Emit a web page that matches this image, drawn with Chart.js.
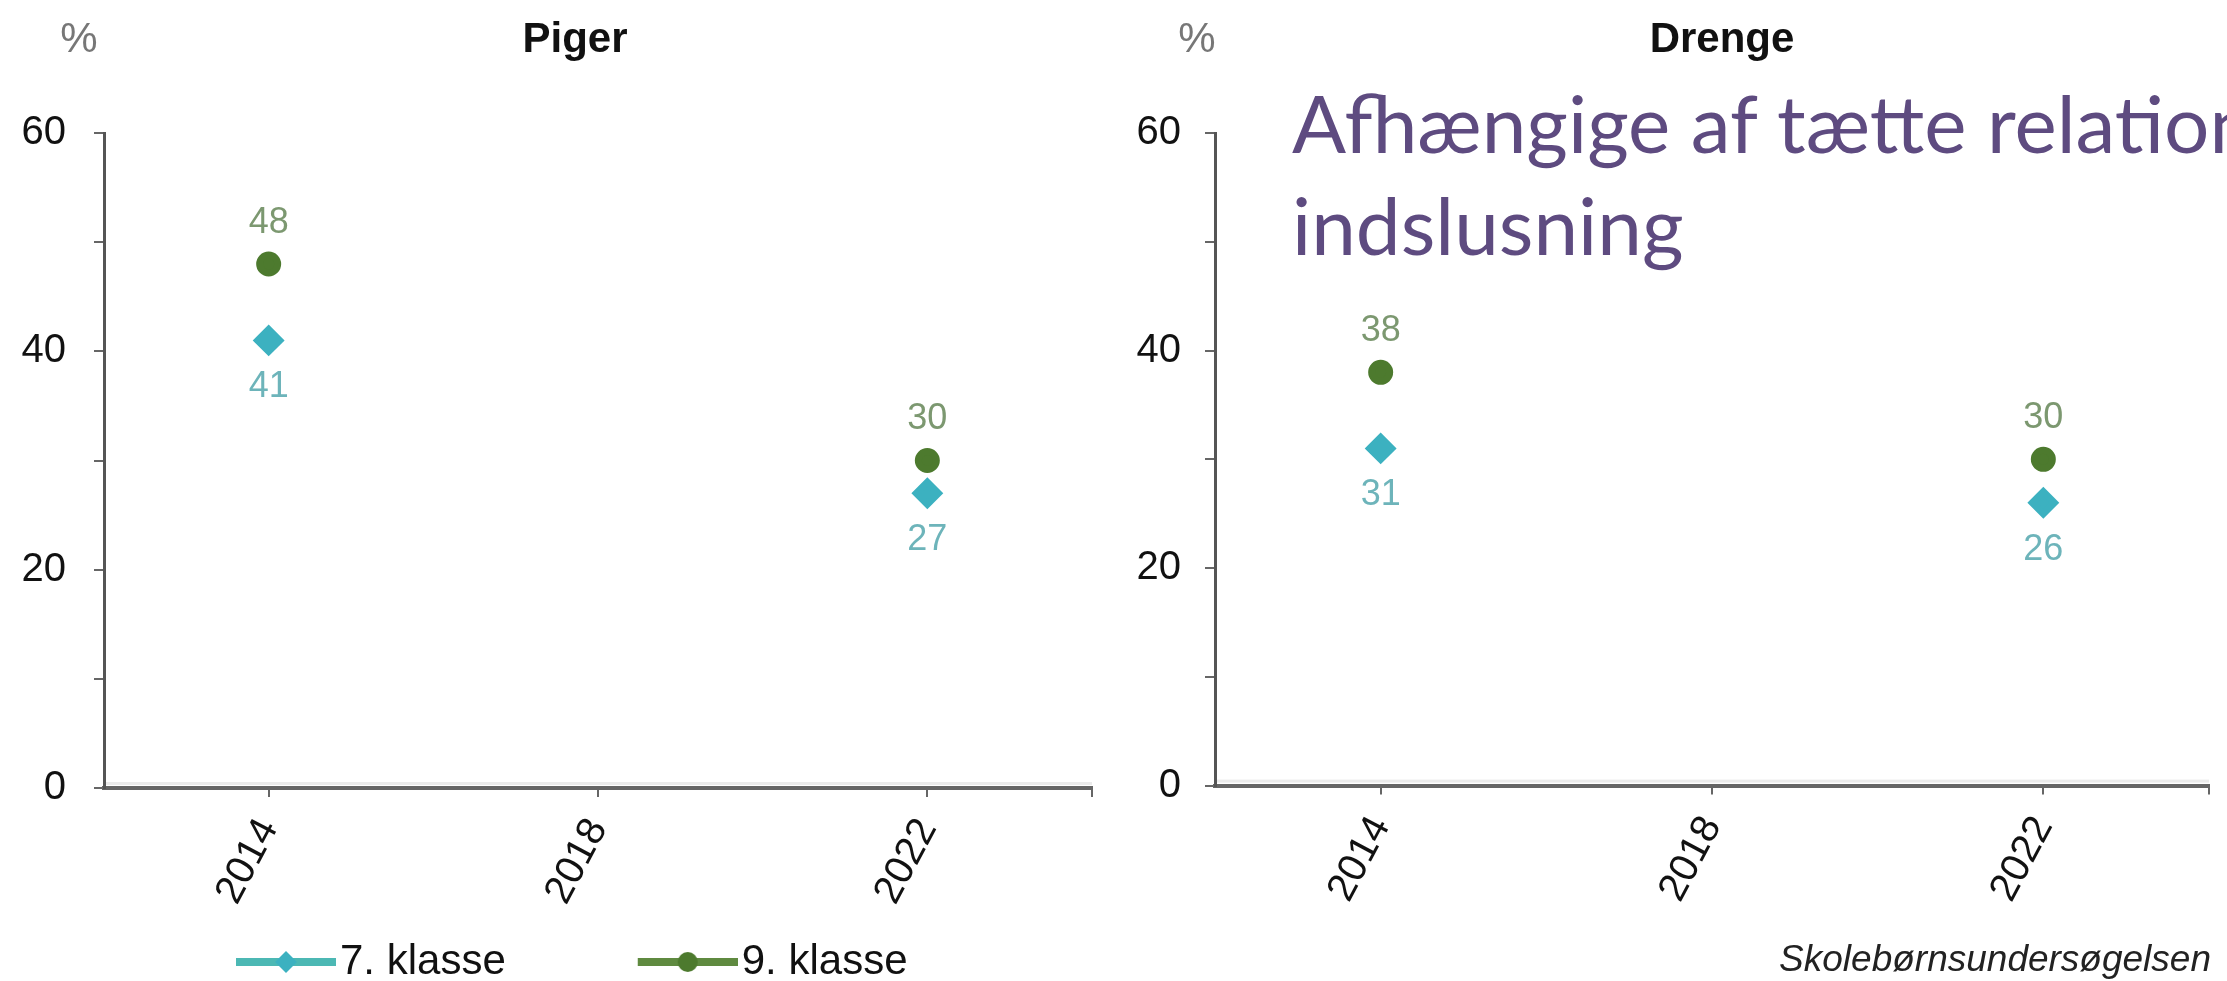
<!DOCTYPE html>
<html><head><meta charset="utf-8">
<script src="https://cdn.jsdelivr.net/npm/chart.js@4.4.1/dist/chart.umd.min.js"></script>
<style>
html,body{margin:0;padding:0;background:#fff;overflow:hidden;width:2227px;height:981px;position:relative;}
#c1{position:absolute;left:0;top:0;width:1110px;height:993px;}
#c2{position:absolute;left:1110px;top:0;width:1117px;height:993px;}
#overlay{position:absolute;left:1292px;top:71px;font-family:Lato,'Open Sans',sans-serif;font-size:80px;line-height:102px;color:#5e4b80;white-space:nowrap;}
</style></head><body>
<canvas id="c1" width="1110" height="993"></canvas>
<canvas id="c2" width="1117" height="993"></canvas>
<div id="overlay">Afhængige af tætte relationer ved<br>indslusning</div>
<script>
// ---- data ----
const years = ['2014', '2018', '2022'];
const seriesNames = ['7. klasse', '9. klasse'];
const piger7 = [41, null, 27];
const piger9 = [48, null, 30];
const drenge7 = [31, null, 26];
const drenge9 = [38, null, 30];
const yTickValues = [0, 10, 20, 30, 40, 50, 60];
const yLabelValues = [0, 20, 40, 60];
const panelTitles = ['Piger', 'Drenge'];
const unitLabel = '%';
const sourceText = 'Skolebørnsundersøgelsen';

// ---- styles ----
const FONT = "'Liberation Sans', Arial, sans-serif";
Chart.defaults.font.family = FONT;
const col7 = '#3cb1c0', line7 = '#4cb8b4', lab7 = '#6db4ba';
const col9 = '#4d7a2e', line9 = '#5f8a40', lab9 = '#7c9870';

function legendIcon(lineColor, markColor, style) {
  const W = 244, H = 30;
  const c = document.createElement('canvas');
  c.width = W; c.height = H;
  const g = c.getContext('2d');
  g.strokeStyle = lineColor; g.lineWidth = 8;
  g.beginPath(); g.moveTo(W - 100, H / 2); g.lineTo(W, H / 2); g.stroke();
  g.fillStyle = markColor;
  const cx = W - 50, cy = H / 2, r = 11;
  g.beginPath();
  if (style === 'rectRot') {
    g.moveTo(cx - r, cy); g.lineTo(cx, cy - r); g.lineTo(cx + r, cy); g.lineTo(cx, cy + r); g.closePath();
  } else {
    g.arc(cx, cy, r - 1, 0, Math.PI * 2);
  }
  g.fill();
  return c;
}

const pointLabels = {
  id: 'pointLabels',
  afterDatasetsDraw(chart) {
    const ctx = chart.ctx;
    chart.data.datasets.forEach((ds, di) => {
      const meta = chart.getDatasetMeta(di);
      meta.data.forEach((pt, i) => {
        const v = ds.data[i];
        if (v == null) return;
        ctx.save();
        ctx.font = '36px ' + FONT;
        ctx.fillStyle = ds.labelColor;
        ctx.textAlign = 'center';
        ctx.textBaseline = 'middle';
        ctx.fillText(String(v), pt.x, pt.y + ds.labelOffset);
        ctx.restore();
      });
    });
  }
};

const panelText = {
  id: 'panelText',
  afterDraw(chart, args, o) {
    const ctx = chart.ctx, a = chart.chartArea;
    ctx.save();
    ctx.strokeStyle = '#666'; ctx.lineWidth = 2;
    ctx.beginPath(); ctx.moveTo(a.right, a.bottom); ctx.lineTo(a.right, a.bottom + 9); ctx.stroke();
    ctx.fillStyle = 'rgba(0,0,0,0.08)';
    ctx.fillRect(a.left + 2, a.bottom - 6, a.right - a.left - 2, 3);
    ctx.textAlign = 'center'; ctx.textBaseline = 'middle';
    ctx.font = 'bold 42px ' + FONT; ctx.fillStyle = '#111';
    ctx.fillText(o.title, o.titleX, o.titleY);
    ctx.font = '42px ' + FONT; ctx.fillStyle = '#777';
    ctx.fillText(unitLabel, o.unitX, o.unitY);
    ctx.restore();
  }
};

function makeChart(id, d7, d9, cfg) {
  return new Chart(document.getElementById(id), {
    type: 'line',
    data: {
      labels: years,
      datasets: [
        { label: seriesNames[0], data: d7, borderColor: line7, backgroundColor: col7,
          pointBackgroundColor: col7, pointBorderColor: col7, pointStyle: 'rectRot', pointRadius: 11,
          borderWidth: 7, spanGaps: false, labelColor: lab7, labelOffset: 47, icon: legendIcon(line7, col7, 'rectRot') },
        { label: seriesNames[1], data: d9, borderColor: line9, backgroundColor: col9,
          pointBackgroundColor: col9, pointBorderColor: col9, pointStyle: 'circle', pointRadius: 9,
          borderWidth: 7, spanGaps: false, labelColor: lab9, labelOffset: -41, icon: legendIcon(line9, col9, 'circle') }
      ]
    },
    options: {
      responsive: false, animation: false, devicePixelRatio: 1,
      layout: { padding: { top: 133, left: 0, right: cfg.padRight, bottom: 0 } },
      scales: {
        x: {
          type: 'category', offset: true,
          grid: { display: true, drawOnChartArea: false, drawTicks: true, tickLength: 9, color: '#666', lineWidth: 2, offset: false },
          border: { display: true, color: '#666', width: 4 },
          ticks: { font: { size: 40 }, color: '#111', minRotation: 62, maxRotation: 62, padding: 14, autoSkip: false },
          afterFit: s => { s.height = 148; }
        },
        y: {
          min: 0, max: 60,
          afterBuildTicks: s => { s.ticks = yTickValues.map(v => ({ value: v })); },
          ticks: { callback: v => yLabelValues.includes(v) ? String(v) : '', font: { size: 40 }, color: '#111', padding: cfg.yPad },
          grid: { drawOnChartArea: false, drawTicks: true, tickLength: 10, color: '#666', lineWidth: 2 },
          border: { display: true, color: '#555', width: 3 },
          afterFit: s => { s.width = cfg.yWidth; }
        }
      },
      plugins: {
        tooltip: { enabled: false },
        title: { display: false },
        legend: cfg.legend ? {
          display: true, position: 'bottom', align: 'start', fullSize: false,
          labels: {
            usePointStyle: true, pointStyleWidth: 210, padding: 5,
            font: { size: 42 }, color: '#111',
            generateLabels: chart => chart.data.datasets.map((ds, i) => ({
              text: ds.label, pointStyle: ds.icon, datasetIndex: i, fillStyle: ds.backgroundColor,
              strokeStyle: ds.borderColor, lineWidth: 0, hidden: false, fontColor: '#111'
            }))
          }
        } : { display: false },
        subtitle: cfg.source ? {
          display: true, text: sourceText, position: 'bottom', align: 'end',
          font: { size: 37, style: 'italic' }, color: '#222', padding: { top: 5, bottom: 10 }
        } : { display: false },
        panelText: { title: cfg.title, titleX: cfg.titleX, titleY: 40, unitX: cfg.unitX, unitY: 40 }
      }
    },
    plugins: [pointLabels, panelText]
  });
}

makeChart('c1', piger7, piger9, { title: panelTitles[0], titleX: 575, unitX: 79, padRight: 14, yWidth: 104, yPad: 28, legend: true, source: false });
makeChart('c2', drenge7, drenge9, { title: panelTitles[1], titleX: 1722 - 1110, unitX: 1197 - 1110, padRight: 16, yWidth: 105, yPad: 24, legend: false, source: true });
</script>
</body></html>
